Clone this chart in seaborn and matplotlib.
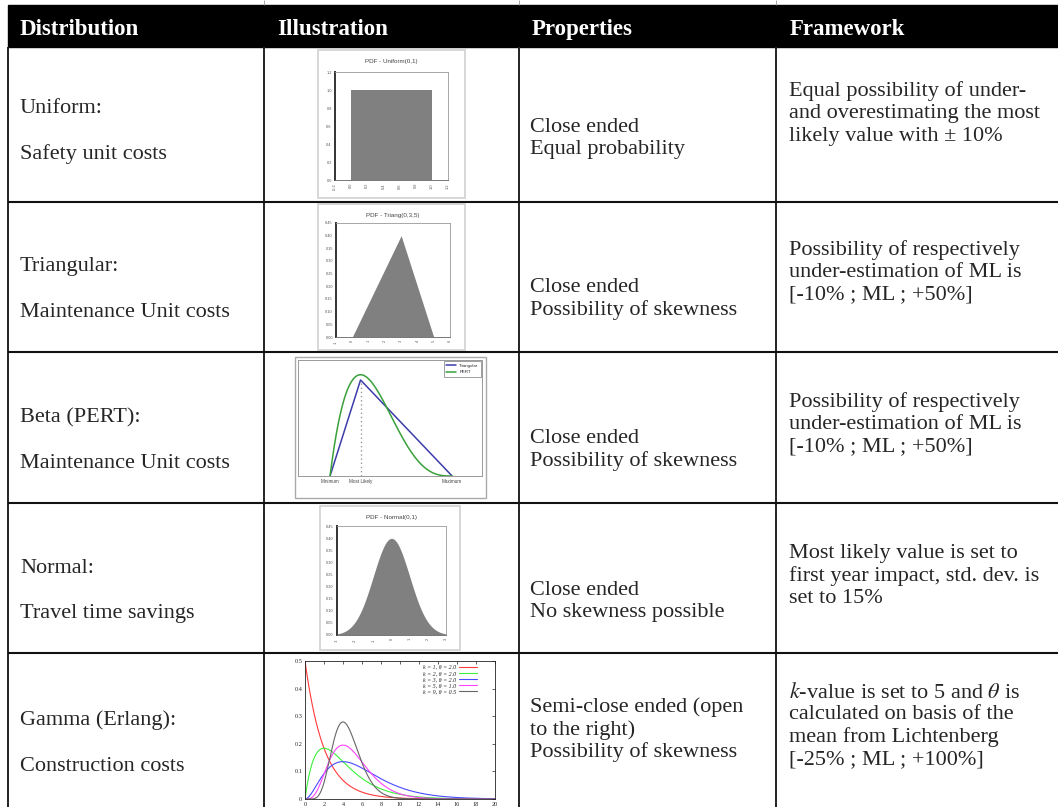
import numpy as np
import pandas as pd
import matplotlib.pyplot as plt
import seaborn as sns
from math import gamma as gamma_fn
from matplotlib.patches import Rectangle

# ==========================================
# DATA
# ==========================================

header_labels = ["Distribution", "Illustration", "Properties", "Framework"]

dist_names = ["Uniform:", "Triangular:", "Beta (PERT):", "Normal:", "Gamma (Erlang):"]
dist_uses = ["Safety unit costs", "Maintenance Unit costs", "Maintenance Unit costs",
             "Travel time savings", "Construction costs"]

properties = [
    ["Close ended", "Equal probability"],
    ["Close ended", "Possibility of skewness"],
    ["Close ended", "Possibility of skewness"],
    ["Close ended", "No skewness possible"],
    ["Semi-close ended (open", "to the right)", "Possibility of skewness"],
]

frameworks = [
    ["Equal possibility of under-", "and overestimating the most", "likely value with \u00b1 10%"],
    ["Possibility of respectively", "under-estimation of ML is", "[-10% ; ML ; +50%]"],
    ["Possibility of respectively", "under-estimation of ML is", "[-10% ; ML ; +50%]"],
    ["Most likely value is set to", "first year impact, std. dev. is", "set to 15%"],
    [r"$k$-value is set to 5 and $\theta$ is", "calculated on basis of the",
     "mean from Lichtenberg", "[-25% ; ML ; +100%]"],
]

# Uniform(0,1)
uniform_x = [0, 0, 1, 1]
uniform_y = [0, 1, 1, 0]
# Triang(0,3,5)
triang_x = [0, 3, 5]
triang_y = [0, 0.4, 0]
# Beta PERT vs triangular (min, most likely, max)
pert_points = [0, 1, 4]
pert_labels = ["Triangular", "PERT"]
pert_ticklabels = ["Minimum", "Most Likely", "Maximum"]
# Normal(0,1)
normal_mu = 0
normal_sigma = 1
# Gamma curves
gamma_k = [1, 2, 3, 5, 9]
gamma_theta = [2.0, 2.0, 2.0, 1.0, 0.5]
gamma_colors = ["#ff3a3a", "#3aee3a", "#4a4aff", "#ff44ff", "#666666"]

# ==========================================
# FIGURE SETUP
# ==========================================

sns.set_style("white")
plt.rcParams['font.family'] = ['Liberation Serif', 'DejaVu Serif']
plt.rcParams['mathtext.fontset'] = 'stix'

W, H = 1058, 807
fig = plt.figure(figsize=(W / 100, H / 100), dpi=100)
fig.patch.set_facecolor("white")


def px_axes(x0, y0, x1, y1):
    return fig.add_axes([x0 / W, 1 - y1 / H, (x1 - x0) / W, (y1 - y0) / H])


table = fig.add_axes([0, 0, 1, 1])
table.set_xlim(0, W)
table.set_ylim(H, 0)
table.axis("off")

# header band
table.add_patch(Rectangle((8, 5), W - 8, 42, color="black", zorder=1))
header_x = [20, 277, 532, 790]
for hx, lab in zip(header_x, header_labels):
    table.text(hx, 27, lab, color="white", fontsize=16.5, fontweight="bold",
               va="center_baseline", ha="left", zorder=2)

# grid lines
table.vlines([8, 264, 519, 776], 47, H, color="#222222", lw=1.4)
table.vlines([264, 519, 776], 0, 5, color="#999999", lw=0.6)
table.hlines([202, 352, 503, 653], 8, W, color="#111111", lw=1.5)

body_fs = 16
col_x = [20, 530, 789]
dist_y = [(106, 152), (264, 310), (415, 461), (566, 611), (718, 764)]
prop_y0 = [125, 285, 436, 588, 705]
frame_y0 = [89, 248, 400, 551, 690]
line_gap = 22.3

for i in range(5):
    table.text(col_x[0], dist_y[i][0], dist_names[i], fontsize=body_fs, va="center_baseline")
    table.text(col_x[0], dist_y[i][1], dist_uses[i], fontsize=body_fs, va="center_baseline")
    for j, line in enumerate(properties[i]):
        table.text(col_x[1], prop_y0[i] + j * line_gap, line, fontsize=body_fs,
                   va="center_baseline")
    for j, line in enumerate(frameworks[i]):
        table.text(col_x[2], frame_y0[i] + j * line_gap, line, fontsize=body_fs,
                   va="center_baseline")


# ==========================================
# @RISK STYLE MINI CHARTS
# ==========================================

def risk_chart(frame, box, title, xlim, ylim, xticks, yticks, fmt):
    fx0, fy0, fx1, fy1 = frame
    table.add_patch(Rectangle((fx0, fy0), fx1 - fx0, fy1 - fy0, facecolor="white",
                              edgecolor="#d4d4d4", lw=1.3, zorder=0.5))
    table.text((box[0] + box[2]) / 2, fy0 + 11, title, fontsize=4.5, ha="center",
               va="center", color="#444444", family="Liberation Sans")
    a = px_axes(*box)
    a.set_xlim(*xlim)
    a.set_ylim(*ylim)
    a.set_xticks(xticks)
    a.set_yticks(yticks)
    a.set_xticklabels([fmt[0].format(v) for v in xticks], rotation=90)
    a.set_yticklabels([fmt[1].format(v) for v in yticks])
    a.tick_params(labelsize=2.8, colors="#555555", length=2.5, width=0.7,
                  direction="inout", pad=1)
    for s in ["top", "right"]:
        a.spines[s].set_color("#999999")
        a.spines[s].set_linewidth(0.6)
    a.spines["left"].set_color("#333333")
    a.spines["left"].set_linewidth(1.4)
    a.spines["bottom"].set_color("#777777")
    a.spines["bottom"].set_linewidth(0.7)
    for lab in a.get_xticklabels() + a.get_yticklabels():
        lab.set_family("Liberation Sans")
    return a


ax_u = risk_chart((318, 50, 465, 198), (335, 72, 448, 180), "PDF - Uniform(0,1)",
                  (-0.2, 1.2), (0, 1.2), np.arange(-0.2, 1.21, 0.2),
                  np.arange(0, 1.21, 0.2), ("{:.1f}", "{:.1f}"))
ax_u.fill_between(uniform_x, uniform_y, color="#808080", lw=0)

ax_t = risk_chart((318, 204, 465, 350), (336, 223, 450, 337), "PDF - Triang(0,3,5)",
                  (-1, 6), (0, 0.45), np.arange(-1, 6.1, 1),
                  np.arange(0, 0.451, 0.05), ("{:.0f}", "{:.2f}"))
ax_t.fill_between(triang_x, triang_y, color="#808080", lw=0)

ax_n = risk_chart((320, 506, 460, 650), (337, 526, 446, 635), "PDF - Normal(0,1)",
                  (-3, 3), (0, 0.45), np.arange(-3, 3.1, 1),
                  np.arange(0, 0.451, 0.05), ("{:.0f}", "{:.2f}"))
xn = np.linspace(-3, 3, 300)
yn = np.exp(-0.5 * ((xn - normal_mu) / normal_sigma) ** 2) / (normal_sigma * np.sqrt(2 * np.pi))
ax_n.fill_between(xn, yn, color="#808080", lw=0)

# ==========================================
# PERT vs TRIANGULAR
# ==========================================

table.add_patch(Rectangle((295, 357), 191, 141, facecolor="white",
                          edgecolor="#aaaaaa", lw=1.0, zorder=0.5))
ax_p = px_axes(298, 360, 482, 476)
lo, ml, hi = pert_points
peak = 2 / (hi - lo)
alpha = 1 + 4 * (ml - lo) / (hi - lo)
beta = 1 + 4 * (hi - ml) / (hi - lo)
xp = np.linspace(lo, hi, 300)
zp = (xp - lo) / (hi - lo)
bnorm = gamma_fn(alpha) * gamma_fn(beta) / gamma_fn(alpha + beta)
yp = zp ** (alpha - 1) * (1 - zp) ** (beta - 1) / bnorm / (hi - lo)

sns.lineplot(x=[lo, ml, hi], y=[0, peak, 0], color="#3c3caa", lw=1.1,
             label=pert_labels[0], sort=False, estimator=None, ax=ax_p)
sns.lineplot(x=xp, y=yp, color="#3aa03a", lw=1.1, label=pert_labels[1],
             sort=False, estimator=None, ax=ax_p)
ax_p.vlines(ml, 0, peak, color="#999999", lw=1.0, linestyles=(0, (1, 2)))
ax_p.set_xlim(-1.05, 4.98)
ax_p.set_ylim(0, 0.604)
ax_p.set_yticks([])
ax_p.set_xticks(pert_points)
ax_p.set_xticklabels(pert_ticklabels)
ax_p.tick_params(labelsize=3.3, length=0, pad=2, colors="#444444")
for lab in ax_p.get_xticklabels():
    lab.set_family("Liberation Sans")
for s in ax_p.spines.values():
    s.set_color("#999999")
    s.set_linewidth(0.7)
leg = ax_p.legend(loc="upper right", frameon=True, fancybox=False,
                  handlelength=2.2, borderpad=0.5, labelspacing=0.6,
                  borderaxespad=0.3, edgecolor="#555555",
                  prop={"family": "Liberation Sans", "size": 3.2})
leg.get_frame().set_linewidth(0.5)

# ==========================================
# GAMMA CURVES
# ==========================================

ax_g = px_axes(305, 661, 495, 799)
xg = np.linspace(0.0001, 20, 400)
for k, th, col in zip(gamma_k, gamma_theta, gamma_colors):
    yg = xg ** (k - 1) * np.exp(-xg / th) / (gamma_fn(k) * th ** k)
    sns.lineplot(x=xg, y=yg, color=col, lw=0.8,
                 label="k = %d, \u03b8 = %.1f" % (k, th),
                 sort=False, estimator=None, ax=ax_g)
ax_g.set_xlim(0, 20)
ax_g.set_ylim(0, 0.5)
ax_g.set_xticks(np.arange(0, 21, 2))
ax_g.set_yticks([0, 0.1, 0.2, 0.3, 0.4, 0.5])
ax_g.set_yticklabels(["0", "0.1", "0.2", "0.3", "0.4", "0.5"])
ax_g.tick_params(labelsize=4.5, direction="in", length=2, width=0.5,
                 top=True, right=True, pad=2)
for s in ax_g.spines.values():
    s.set_color("#222222")
    s.set_linewidth(0.6)
ax_g.legend(loc="upper right", bbox_to_anchor=(0.92, 0.995), frameon=False,
            markerfirst=False, handlelength=3.0, labelspacing=0.15,
            borderaxespad=0.1, handletextpad=0.5,
            prop={"family": "Liberation Serif", "style": "italic", "size": 4.3})

fig.savefig("out.png", dpi=100, facecolor="white")
